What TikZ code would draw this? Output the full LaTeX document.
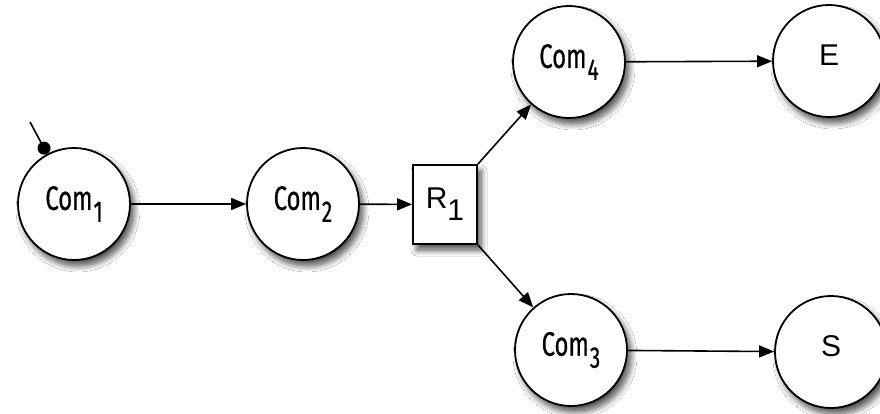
\documentclass[tikz,border=0pt]{standalone}
\usepackage{fontspec}
\setmainfont{Liberation Sans}
\newfontfamily\comfont[FakeStretch=0.7,FakeBold=0.5]{Fira Sans}
\newfontfamily\hfont{Liberation Sans}
\usetikzlibrary{arrows.meta,shadows.blur}
\newcommand{\Com}[1]{{\comfont\fontsize{34}{36}\selectfont Com\hspace{1pt}\raisebox{-12pt}{\fontsize{30}{30}\selectfont #1}}}
\newcommand{\HT}[2]{{\hfont\fontsize{30}{32}\selectfont #1\raisebox{-12pt}{#2}}}
\tikzset{
  state/.style={circle, draw=black, line width=1.8pt, fill=white, minimum size=112pt, inner sep=0pt,
    blur shadow={shadow xshift=4pt, shadow yshift=-6pt, shadow blur steps=10, shadow opacity=70, shadow blur radius=6pt}},
  rbox/.style={rectangle, draw=black, line width=1.8pt, fill=white, minimum width=64pt, minimum height=79pt, inner sep=0pt,
    blur shadow={shadow xshift=4pt, shadow yshift=-6pt, shadow blur steps=10, shadow opacity=70, shadow blur radius=6pt}},
  arr/.style={line width=1.6pt, -{Triangle[length=15pt,width=12pt]}},
  initarr/.style={line width=1.6pt, -{Circle[length=13pt]}}
}
\begin{document}
\begin{tikzpicture}[x=1pt,y=-1pt]
\useasboundingbox (0,0) rectangle (880,414);
\fill[white] (0,0) rectangle (880,414);
\node[state] (c1) at (74,204) {\Com{1}};
\node[state] (c2) at (303,204) {\Com{2}};
\node[rbox] (r1) at (445,204.5) {\HT{R}{1}};
\node[state] (c4) at (569,62) {\Com{4}};
\node[state] (e) at (829,61) {\HT{E}{}};
\node[state] (c3) at (571,350) {\Com{3}};
\node[state] (s) at (831,352) {\HT{S}{}};
\coordinate (init) at (30,122);
\draw[initarr] (init) -- (c1);
\draw[arr] (c1) -- (c2);
\draw[arr] (c2) -- (r1);
\draw[arr] (r1.north east) -- (c4);
\draw[arr] (r1.south east) -- (c3);
\draw[arr] (c4) -- (e);
\draw[arr] (c3) -- (s);
\end{tikzpicture}
\end{document}
